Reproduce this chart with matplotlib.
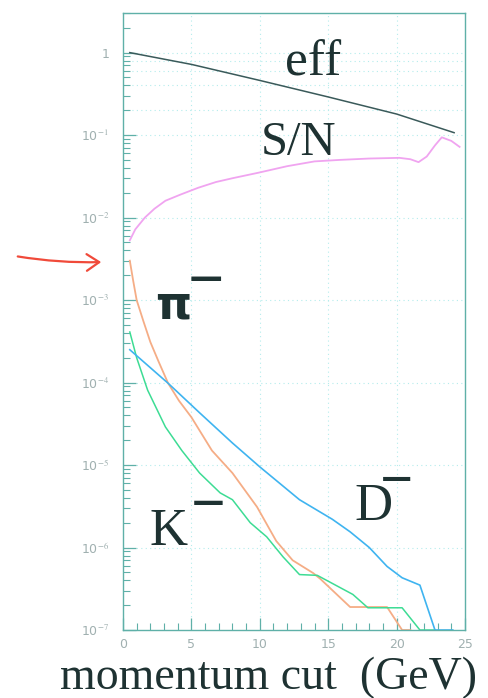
import matplotlib
matplotlib.use("Agg")
import matplotlib.pyplot as plt
import numpy as np

plt.rcParams['mathtext.fontset'] = 'stix'

# ---- data ----
eff_p = [0.5, 5, 10, 15, 20, 24.2]
eff_v = [1.0, 0.72, 0.46, 0.29, 0.18, 0.107]

sn_p = [0.5, 0.9, 1.6, 2.3, 3.1, 4.2, 5.5, 6.8, 8.0, 9.9, 12.0, 14.0, 15.8, 18.0, 20.2, 21.0, 21.6, 22.2, 22.8, 23.3, 24.0, 24.6]
sn_v = [0.0053, 0.0072, 0.0100, 0.0128, 0.016, 0.019, 0.023, 0.027, 0.030, 0.035, 0.042, 0.048, 0.050, 0.052, 0.053, 0.051, 0.047, 0.055, 0.075, 0.094, 0.085, 0.072]

pi_p = [0.5, 0.75, 1.0, 1.5, 2.0, 2.6, 3.3, 4.1, 5.0, 6.5, 8.0, 9.8, 11.2, 12.4, 13.9, 14.4, 16.6, 19.3, 20.4, 21.0]
pi_v = [3.0e-3, 1.7e-3, 1.0e-3, 5.5e-4, 3.1e-4, 1.8e-4, 9.8e-5, 6.0e-5, 3.8e-5, 1.5e-5, 8e-6, 3.1e-6, 1.2e-6, 7e-7, 4.9e-7, 4.2e-7, 1.9e-7, 1.9e-7, 1.0e-7, 1.0e-7]

k_p = [0.5, 1.0, 1.8, 3.1, 4.3, 5.6, 7.1, 8.0, 9.3, 10.5, 11.7, 12.9, 14.2, 16.8, 17.9, 20.4, 21.7, 22.8]
k_v = [4.1e-4, 2.0e-4, 8.1e-5, 2.9e-5, 1.5e-5, 8e-6, 4.6e-6, 3.8e-6, 2.0e-6, 1.35e-6, 7.7e-7, 4.7e-7, 4.6e-7, 2.7e-7, 1.86e-7, 1.86e-7, 1.0e-7, 1.0e-7]

d_p = [0.5, 3.3, 5.6, 8.0, 10.0, 12.9, 14.4, 15.3, 16.6, 18.0, 19.3, 20.4, 21.7, 22.8, 24.1]
d_v = [2.5e-4, 9.8e-5, 4.3e-5, 1.85e-5, 9.5e-6, 3.8e-6, 2.7e-6, 2.2e-6, 1.55e-6, 1.0e-6, 5.9e-7, 4.3e-7, 3.5e-7, 1.0e-7, 1.0e-7]

ytick_vals = [1e-7, 1e-6, 1e-5, 1e-4, 1e-3, 1e-2, 1e-1, 1]
ytick_labels = [r'10$^{-7}$', r'10$^{-6}$', r'10$^{-5}$', r'10$^{-4}$', r'10$^{-3}$',
                r'10$^{-2}$', r'10$^{-1}$', '1']
xtick_vals = [0, 5, 10, 15, 20, 25]
xtick_labels = ['0', '5', '10', '15', '20', '25']

axis_col = '#5fb0a8'
tick_col = '#a0b0b0'
grid_col = '#b4ecec'
text_col = '#1e3232'

fig = plt.figure(figsize=(4.88, 6.98), dpi=100)
ax = fig.add_axes([0.252, 0.0974, 0.701, 0.8836])
ax.set_yscale('log')
ax.set_xlim(0, 25)
ax.set_ylim(1e-7, 3)

# grid
for v in [0.2, 0.4, 0.6, 0.8] + ytick_vals[1:]:
    ax.axhline(v, color=grid_col, lw=0.8, ls=(0, (1, 3)), zorder=0)
for v in [5, 10, 15, 20]:
    ax.axvline(v, color=grid_col, lw=0.8, ls=(0, (1, 3)), zorder=0)

ax.plot(eff_p, eff_v, color='#3a5a5a', lw=1.1)
ax.plot(sn_p, sn_v, color='#f0a4f0', lw=1.3)
ax.plot(pi_p, pi_v, color='#f5ad86', lw=1.3, clip_on=False)
ax.plot(k_p, k_v, color='#3ddc94', lw=1.1, clip_on=False)
ax.plot(d_p, d_v, color='#3fb4f0', lw=1.2, clip_on=False)

ax.set_yticks(ytick_vals)
ax.set_yticklabels(ytick_labels)
ax.set_xticks(xtick_vals)
ax.set_xticklabels(xtick_labels)
ax.set_xticks(np.arange(0, 26, 1), minor=True)
ax.tick_params(axis='both', which='both', direction='in', colors=axis_col,
               labelcolor=tick_col, labelsize=9)
ax.tick_params(axis='both', which='major', length=9, width=0.9)
ax.tick_params(axis='both', which='minor', length=5, width=0.8)
ax.tick_params(axis='y', pad=10)
ax.tick_params(axis='x', pad=6)
for s in ax.spines.values():
    s.set_color(axis_col)
    s.set_linewidth(1.0)

serif = 'Liberation Serif'
W, H = 488.0, 698.0


def ftext(x, y, s, **kw):
    fig.text(x / W, 1 - y / H, s, **kw)


ftext(313, 63, 'eff', fontsize=37, family=serif, color=text_col, ha='center', va='center')
ftext(299, 143, 'S/N', fontsize=35, family=serif, color=text_col, ha='center', va='center')
ftext(173, 306, 'π', fontsize=33, family='DejaVu Sans', weight='bold', color=text_col,
      ha='center', va='center')
ftext(206, 285, '−', fontsize=46, family=serif, weight='bold', color=text_col, ha='center', va='center')
ftext(169, 532, 'K', fontsize=38, family=serif, color=text_col, ha='center', va='center')
ftext(208, 508, '−', fontsize=44, family=serif, weight='bold', color=text_col, ha='center', va='center')
ftext(373, 507, 'D', fontsize=38, family=serif, color=text_col, ha='center', va='center')
ftext(397, 484, '−', fontsize=42, family=serif, weight='bold', color=text_col, ha='center', va='center')

ftext(268, 689, 'momentum cut  (GeV)', fontsize=33, family=serif, color=text_col,
      ha='center', va='baseline')

# hand-drawn red arrow pointing at the axis
fig.add_artist(matplotlib.patches.FancyArrowPatch(
    (15 / W, 1 - 256 / H), (104 / W, 1 - 262 / H),
    transform=fig.transFigure, arrowstyle='->,head_length=9,head_width=6',
    color='#f04a3a', lw=1.6, connectionstyle='arc3,rad=0.05'))

fig.savefig('out.png', dpi=100)
